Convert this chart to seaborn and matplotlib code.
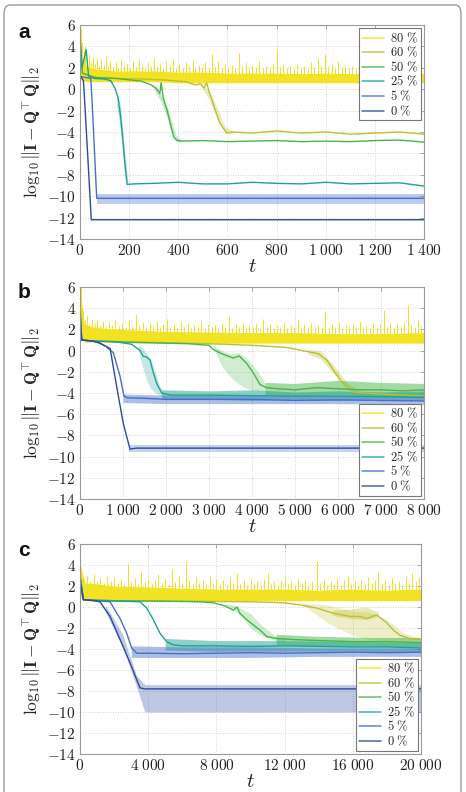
import matplotlib
matplotlib.use("Agg")
import matplotlib.pyplot as plt
from matplotlib.lines import Line2D
from matplotlib.patches import FancyBboxPatch
import seaborn as sns

# ---------------- data ----------------
LABELS = ["80 %", "60 %", "50 %", "25 %", "5 %", "0 %"]
COLORS = ["#f3e21b", "#bcc12e", "#48b44a", "#20a196", "#4670c6", "#2a4b9f"]

# ---- panel a ----
a_xticks = [0, 200, 400, 600, 800, 1000, 1200, 1400]
a_y80_t = [0, 10, 30, 60, 100, 150, 200, 300, 400, 500, 600, 700, 800, 900, 1000, 1100, 1200, 1300, 1400]
a_y80_lo = [1.0, 0.8, 0.7, 0.7, 0.7, 0.7, 0.7, 0.7, 0.6, 0.6, 0.6, 0.6, 0.6, 0.6, 0.6, 0.6, 0.55, 0.6, 0.6]
a_y80_hi = [5.0, 2.8, 2.1, 1.9, 1.8, 1.7, 1.7, 1.7, 1.6, 1.6, 1.5, 1.5, 1.5, 1.45, 1.5, 1.45, 1.45, 1.45, 1.45]
a_spikes = [(3, 5.6), (9, 4.4), (16, 3.6), (22, 4.0), (28, 2.9), (36, 3.3), (44, 2.5), (51, 3.0), (60, 2.4),
            (68, 2.9), (77, 2.2), (85, 2.7), (96, 2.3), (104, 3.1), (115, 2.2), (123, 2.6), (134, 2.1),
            (146, 2.5), (155, 2.0), (166, 2.8), (178, 2.2), (190, 2.4), (203, 2.0), (214, 2.6), (228, 2.1),
            (240, 2.9), (251, 2.3), (263, 2.0), (277, 2.5), (289, 2.2), (301, 2.9), (314, 2.1), (326, 2.4),
            (338, 2.0), (350, 2.6), (365, 2.2), (377, 2.8), (390, 2.1), (404, 2.4), (418, 2.0), (430, 2.5),
            (444, 2.2), (458, 2.7), (470, 2.0), (483, 2.3), (497, 2.1), (510, 2.5), (524, 2.0), (537, 3.3),
            (550, 2.2), (563, 2.6), (577, 2.0), (590, 2.4), (604, 2.1), (618, 2.3), (632, 2.0), (646, 3.4),
            (660, 2.2), (674, 2.5), (688, 2.0), (702, 2.3), (716, 2.1), (730, 2.6), (744, 2.0), (758, 2.3),
            (772, 2.1), (786, 2.4), (800, 3.8), (814, 2.1), (828, 2.3), (842, 2.0), (856, 2.2), (870, 1.9),
            (884, 2.4), (898, 2.0), (912, 2.2), (926, 1.9), (940, 2.5), (954, 2.1), (968, 2.9), (982, 2.2),
            (996, 3.3), (1010, 2.1), (1024, 2.4), (1038, 2.0), (1052, 2.6), (1066, 2.1), (1080, 2.3),
            (1094, 2.0), (1108, 2.2), (1122, 1.9), (1136, 2.4), (1150, 2.0), (1164, 2.3), (1178, 2.0),
            (1192, 2.7), (1206, 2.1), (1220, 2.4), (1234, 3.0), (1248, 2.1), (1262, 2.3), (1276, 2.8),
            (1290, 2.0), (1304, 2.4), (1318, 2.1), (1332, 2.3), (1346, 2.0), (1360, 2.5), (1374, 2.1),
            (1388, 2.6)]
a60_t = [0, 10, 60, 150, 250, 350, 430, 470, 490, 505, 515, 525, 545, 570, 597, 620, 700, 800, 900, 1000, 1100, 1200, 1300, 1400]
a60_v = [4.0, 1.5, 1.1, 1.0, 0.95, 0.85, 0.7, 0.4, 0.5, 0.1, 0.6, -0.2, -1.6, -3.2, -4.1, -4.0, -4.1, -3.9, -4.1, -4.0, -4.2, -4.1, -4.0, -4.2]
a60_bt = [500, 530, 560, 590, 620]
a60_blo = [0.0, -1.2, -2.9, -4.0, -4.2]
a60_bhi = [0.4, -0.3, -1.8, -3.5, -3.9]
a50_t = [0, 10, 60, 150, 250, 290, 310, 325, 330, 340, 355, 370, 382, 395, 420, 500, 600, 700, 800, 900, 1000, 1100, 1200, 1300, 1400]
a50_v = [4.5, 1.5, 1.1, 1.0, 0.75, 0.4, 0.1, -0.4, 0.6, -0.9, -2.0, -3.5, -4.5, -4.8, -4.85, -4.8, -4.9, -4.85, -4.8, -4.9, -4.85, -4.9, -4.8, -4.75, -4.95]
a50_bt = [300, 330, 360, 390, 410]
a50_blo = [0.0, -1.2, -3.0, -4.8, -5.0]
a50_bhi = [0.4, -0.5, -2.0, -4.3, -4.7]
a25_t = [0, 8, 25, 35, 60, 100, 125, 142, 155, 165, 176, 185, 192, 220, 300, 400, 500, 600, 700, 800, 900, 1000, 1100, 1200, 1300, 1400]
a25_v = [5.0, 2.0, 3.7, 1.2, 1.0, 0.95, 0.8, 0.1, -0.8, -2.5, -5.1, -7.5, -8.9, -8.85, -8.8, -8.7, -8.85, -8.85, -8.7, -8.8, -8.85, -8.7, -8.85, -8.8, -8.75, -9.05]
a25_bt = [150, 165, 180, 195]
a25_blo = [-1.5, -4.0, -7.5, -9.1]
a25_bhi = [-0.3, -1.5, -5.5, -8.6]
a5_t = [0, 44, 50, 68, 400, 800, 1200, 1400]
a5_v = [1.2, 1.0, -1.5, -10.2, -10.2, -10.2, -10.2, -10.2]
a5_bt = [68, 1400]
a5_blo = [-10.7, -10.7]
a5_bhi = [-9.75, -9.75]
a0_t = [0, 14, 20, 46, 1400]
a0_v = [1.3, 0.8, -1.5, -12.2, -12.2]

# ---- panel b ----
b_xticks = [0, 1000, 2000, 3000, 4000, 5000, 6000, 7000, 8000]
b_y80_t = [0, 100, 300, 600, 1000, 2000, 3000, 4000, 5000, 6000, 7000, 8000]
b_y80_lo = [1.5, 0.8, 0.8, 0.8, 0.75, 0.7, 0.7, 0.7, 0.7, 0.7, 0.7, 0.7]
b_y80_hi = [6.0, 2.5, 2.2, 2.1, 2.0, 1.8, 1.75, 1.7, 1.7, 1.6, 1.6, 1.7]
b_spikes = [(20, 6.0), (60, 3.8), (110, 2.9), (160, 3.3), (220, 2.5), (280, 3.0), (340, 2.6), (400, 2.9),
            (470, 2.4), (540, 2.8), (610, 2.3), (680, 2.7), (750, 2.4), (820, 3.0), (900, 2.3), (980, 2.6),
            (1060, 2.2), (1140, 2.9), (1220, 2.3), (1300, 3.5), (1380, 2.4), (1460, 2.7), (1540, 2.2),
            (1620, 2.6), (1700, 2.3), (1780, 2.8), (1860, 2.2), (1940, 2.5), (2020, 3.0), (2100, 2.2),
            (2180, 2.5), (2260, 2.1), (2340, 2.7), (2420, 2.2), (2500, 2.6), (2580, 2.1), (2660, 2.4),
            (2740, 2.2), (2820, 2.8), (2900, 2.1), (2980, 2.5), (3060, 2.2), (3140, 2.4), (3220, 2.1),
            (3300, 2.6), (3380, 2.2), (3460, 3.3), (3540, 2.1), (3620, 2.5), (3700, 2.2), (3780, 2.7),
            (3860, 2.1), (3940, 2.4), (4020, 2.2), (4100, 2.6), (4180, 2.1), (4260, 3.0), (4340, 2.2),
            (4420, 2.5), (4500, 2.1), (4580, 2.4), (4660, 2.2), (4740, 2.7), (4820, 2.1), (4900, 2.4),
            (4980, 2.2), (5060, 3.0), (5140, 2.1), (5220, 2.5), (5300, 2.2), (5380, 2.6), (5460, 2.1),
            (5540, 2.4), (5620, 2.2), (5700, 3.7), (5780, 2.1), (5860, 2.5), (5940, 2.2), (6020, 2.7),
            (6100, 2.1), (6180, 2.4), (6260, 2.2), (6340, 2.6), (6420, 2.1), (6500, 2.8), (6580, 2.2),
            (6660, 2.4), (6740, 2.1), (6820, 2.6), (6900, 2.2), (6980, 2.5), (7060, 3.8), (7140, 2.2),
            (7220, 2.6), (7300, 2.1), (7380, 2.5), (7460, 2.2), (7540, 2.7), (7620, 4.3), (7700, 2.4),
            (7780, 2.2), (7860, 2.9), (7940, 2.3), (7990, 3.0)]
b60_t = [0, 40, 300, 1000, 2000, 3000, 4000, 4800, 5300, 5550, 5740, 5890, 6050, 6200, 6360, 6600, 7000, 7500, 8000]
b60_v = [4.5, 1.0, 0.9, 0.85, 0.75, 0.65, 0.5, 0.3, -0.1, -0.3, -0.9, -1.8, -2.75, -3.4, -3.9, -4.0, -4.1, -4.2, -4.3]
b60_bt = [5300, 5600, 5900, 6200, 6500, 6800, 8000]
b60_blo = [-0.3, -0.8, -2.2, -3.6, -4.1, -4.3, -4.5]
b60_bhi = [0.1, 0.0, -1.4, -3.0, -3.8, -3.9, -4.0]
b50_t = [0, 40, 300, 1000, 1500, 2000, 2500, 3000, 3100, 3300, 3565, 3700, 3875, 4030, 4186, 4341, 4600, 5000, 5500, 6000, 6500, 7000, 7500, 8000]
b50_v = [4.0, 1.0, 0.9, 0.8, 0.75, 0.7, 0.65, 0.5, 0.1, -0.3, -0.7, -0.5, -1.2, -2.1, -3.2, -3.5, -3.6, -3.7, -3.5, -3.6, -3.7, -3.7, -3.8, -3.7]
b50_wt = [3100, 3300, 3500, 3700, 3900, 4100, 4300]
b50_wlo = [0.3, -1.5, -2.5, -3.2, -3.6, -3.8, -3.8]
b50_whi = [0.5, 0.0, -0.3, -0.2, -0.8, -1.8, -3.0]
b50_nt = [4300, 5000, 6000, 7000, 8000]
b50_nlo = [-4.2, -4.3, -4.2, -4.3, -4.4]
b50_nhi = [-3.0, -3.1, -2.8, -3.0, -3.1]
b25_t = [0, 40, 300, 800, 1200, 1318, 1400, 1473, 1550, 1628, 1700, 1783, 1900, 2100, 3000, 4000, 5000, 6000, 7000, 8000]
b25_v = [4.0, 1.0, 0.9, 0.85, 0.6, 0.25, 0.0, -0.55, -0.6, -0.9, -2.0, -3.1, -4.0, -4.2, -4.2, -4.25, -4.3, -4.3, -4.35, -4.4]
b25_wt = [1350, 1450, 1550, 1650, 1750, 1850, 1950]
b25_wlo = [0.2, -1.5, -2.8, -3.6, -4.0, -4.2, -4.3]
b25_whi = [0.5, 0.3, -0.3, -0.8, -2.0, -3.3, -3.9]
b25_nt = [1900, 3000, 4000, 5000, 6000, 7000, 8000]
b25_nlo = [-4.6, -4.6, -4.7, -4.6, -4.7, -4.6, -4.7]
b25_nhi = [-3.7, -3.8, -3.7, -3.9, -3.8, -3.9, -3.8]
b5_t = [0, 40, 300, 465, 600, 775, 930, 1023, 1100, 1500, 2000, 3000, 4000, 5000, 6000, 7000, 8000]
b5_v = [3.5, 1.0, 0.9, 0.7, 0.4, -0.2, -2.4, -4.3, -4.45, -4.5, -4.6, -4.6, -4.6, -4.7, -4.65, -4.7, -4.75]
b5_nt = [1000, 2000, 4000, 6000, 8000]
b5_nlo = [-4.9, -5.0, -5.0, -5.0, -5.1]
b5_nhi = [-4.1, -4.2, -4.2, -4.3, -4.3]
b0_t = [0, 40, 300, 465, 700, 853, 1008, 1163, 1300, 8000]
b0_v = [3.0, 1.0, 0.9, 0.7, 0.2, -3.4, -6.9, -9.3, -9.2, -9.2]
b0_bt = [1150, 8000]
b0_blo = [-9.6, -9.6]
b0_bhi = [-8.9, -8.9]

# ---- panel c ----
c_xticks = [0, 4000, 8000, 12000, 16000, 20000]
c_y80_t = [0, 300, 1000, 2000, 4000, 6000, 8000, 10000, 12000, 14000, 16000, 18000, 20000]
c_y80_lo = [1.0, 0.6, 0.6, 0.6, 0.6, 0.6, 0.6, 0.6, 0.6, 0.6, 0.6, 0.6, 0.6]
c_y80_hi = [4.0, 2.3, 2.2, 2.0, 1.9, 1.8, 1.7, 1.7, 1.7, 1.6, 1.7, 1.6, 1.7]
c_spikes = [(30, 3.8), (200, 2.7), (400, 3.0), (600, 2.5), (800, 3.1), (1000, 2.4), (1200, 2.8), (1400, 2.3),
            (1600, 3.0), (1800, 2.5), (2000, 2.9), (2200, 2.3), (2400, 2.7), (2600, 2.2), (2800, 4.1),
            (3000, 2.4), (3200, 2.8), (3400, 2.2), (3600, 3.3), (3800, 2.4), (4000, 2.7), (4200, 2.2),
            (4400, 2.6), (4600, 3.1), (4800, 2.3), (5000, 2.7), (5200, 2.2), (5400, 3.6), (5600, 2.4),
            (5800, 3.0), (6000, 2.3), (6200, 4.4), (6400, 2.6), (6600, 2.2), (6800, 2.9), (7000, 2.3),
            (7200, 2.6), (7400, 2.2), (7600, 3.0), (7800, 2.3), (8000, 2.7), (8200, 2.2), (8400, 2.6),
            (8600, 2.1), (8800, 2.9), (9000, 2.3), (9200, 3.2), (9400, 2.2), (9600, 2.6), (9800, 2.1),
            (10000, 2.8), (10200, 2.3), (10400, 2.5), (10600, 2.1), (10800, 2.7), (11000, 3.2), (11200, 2.2),
            (11400, 2.5), (11600, 2.1), (11800, 2.6), (12000, 2.9), (12200, 2.2), (12400, 2.5), (12600, 2.1),
            (12800, 2.7), (13000, 2.3), (13200, 2.6), (13400, 2.1), (13600, 2.5), (13900, 4.4), (14100, 2.3),
            (14300, 2.7), (14500, 2.1), (14700, 2.5), (14900, 2.2), (15100, 2.8), (15300, 2.1), (15500, 2.6),
            (15700, 3.0), (15900, 2.2), (16100, 2.5), (16300, 2.1), (16500, 2.7), (16700, 2.2), (16900, 2.9),
            (17100, 2.3), (17300, 2.6), (17500, 3.3), (17700, 2.2), (17900, 2.6), (18100, 2.1), (18300, 2.8),
            (18500, 2.3), (18700, 2.5), (18900, 2.1), (19100, 2.9), (19300, 2.3), (19500, 3.2), (19700, 2.4),
            (19900, 2.9)]
c60_t = [0, 200, 2000, 6000, 10000, 12000, 12900, 13880, 14860, 15840, 16420, 16800, 17400, 17990, 18380, 18770, 19350, 20000]
c60_v = [3.0, 0.7, 0.6, 0.55, 0.5, 0.4, 0.2, -0.1, -0.6, -0.9, -0.9, -1.1, -0.75, -1.5, -2.2, -2.7, -3.0, -3.1]
c60_wt = [13000, 14500, 16000, 17000, 18000, 19000, 20000]
c60_wlo = [0.3, -1.5, -2.7, -3.1, -3.2, -3.3, -3.3]
c60_whi = [0.4, 0.2, -0.4, -0.5, -1.2, -2.5, -3.0]
c60_nt = [14800, 15800, 16800, 17500]
c60_nlo = [-0.8, -1.1, -1.2, -0.9]
c60_nhi = [-0.3, -0.2, 0.0, -0.5]
c50_t = [0, 200, 2000, 5000, 7000, 7820, 8500, 8990, 9200, 9384, 9775, 10160, 10557, 10948, 11535, 12500, 14000, 16000, 18000, 20000]
c50_v = [3.0, 0.7, 0.6, 0.55, 0.5, 0.4, 0.1, -0.3, 0.0, -0.6, -1.2, -1.7, -2.2, -2.8, -3.0, -3.1, -3.2, -3.3, -3.3, -3.4]
c50_wt = [8500, 9000, 9500, 10000, 10500, 11000, 11500, 12000]
c50_wlo = [0.1, -0.2, -1.0, -2.0, -2.6, -3.0, -3.2, -3.3]
c50_whi = [0.3, 0.2, -0.2, -0.6, -1.5, -2.2, -2.8, -3.0]
c50_nt = [11500, 14000, 17000, 20000]
c50_nlo = [-3.6, -3.7, -3.7, -3.8]
c50_nhi = [-2.6, -2.8, -2.9, -2.9]
c25_t = [0, 200, 1000, 2500, 3519, 3910, 4300, 4690, 5080, 5470, 6000, 8000, 10000, 12000, 14000, 16000, 18000, 20000]
c25_v = [3.0, 0.7, 0.6, 0.55, 0.5, -0.1, -1.2, -2.5, -3.3, -3.6, -3.7, -3.7, -3.75, -3.7, -3.75, -3.8, -3.8, -3.9]
c25_nt = [5000, 8000, 12000, 16000, 20000]
c25_nlo = [-4.1, -4.2, -4.2, -4.2, -4.3]
c25_nhi = [-3.0, -3.2, -3.2, -3.3, -3.4]
c5_t = [0, 200, 1000, 1760, 2350, 2740, 3030, 3320, 4000, 6000, 8000, 10000, 12000, 14000, 16000, 18000, 20000]
c5_v = [2.5, 0.7, 0.6, 0.5, -1.1, -2.5, -3.9, -4.4, -4.4, -4.45, -4.4, -4.35, -4.4, -4.35, -4.3, -4.35, -4.3]
c5_nt = [3000, 6000, 10000, 14000, 20000]
c5_nlo = [-4.8, -4.8, -4.8, -4.7, -4.7]
c5_nhi = [-3.7, -3.8, -3.8, -3.9, -3.9]
c0_t = [0, 200, 800, 1170, 1760, 2350, 2930, 3320, 3520, 3800, 20000]
c0_v = [2.5, 0.7, 0.6, 0.5, -0.9, -3.1, -5.3, -6.9, -7.7, -7.8, -7.8]
c0_bt = [1500, 2500, 3300, 3800, 20000]
c0_blo = [-0.5, -3.8, -7.5, -10.0, -10.0]
c0_bhi = [0.2, -2.6, -6.5, -7.4, -7.4]

YTICKS = [-14, -12, -10, -8, -6, -4, -2, 0, 2, 4, 6]

# ---------------- style ----------------
sns.set_theme(style="white")
plt.rcParams["mathtext.fontset"] = "cm"
plt.rcParams["font.family"] = ["DejaVu Serif"]

fig = plt.figure(figsize=(4.66, 7.92), dpi=100)
border = FancyBboxPatch((4 / 466, -0.05), 457 / 466, 1.05 - 5 / 792,
                        boxstyle="round,pad=0,rounding_size=0.012",
                        transform=fig.transFigure, fill=False, edgecolor="#9a9a9a", lw=1.0)
fig.patches.append(border)

positions = [
    [80 / 466, 1 - 239 / 792, 344 / 466, 214 / 792],
    [80 / 466, 1 - 499 / 792, 344 / 466, 212 / 792],
    [80 / 466, 1 - 754 / 792, 341 / 466, 210 / 792],
]


def fmt_num(v):
    s = f"{abs(v):,}".replace(",", r"\;")
    return ("$-" if v < 0 else "$") + s + "$"


def band(ax, t, lo, hi, color, alpha):
    ax.fill_between(t, lo, hi, color=color, alpha=alpha, lw=0)


def line(ax, t, v, color, lw=1.0):
    sns.lineplot(x=t, y=v, color=color, lw=lw, ax=ax, estimator=None, sort=False)


def draw_yellow(ax, t, lo, hi, spikes):
    band(ax, t, lo, hi, COLORS[0], 0.95)
    st = [s[0] for s in spikes]
    sv = [s[1] for s in spikes]
    ax.vlines(st, [1.0] * len(st), sv, color=COLORS[0], lw=0.7)


def style_axes(ax, xticks, xmax, letter, letter_y, legend_loc):
    ax.set_xlim(0, xmax)
    ax.set_ylim(-14, 6)
    ax.set_xticks(xticks)
    ax.set_xticklabels([fmt_num(v) for v in xticks], fontsize=11)
    ax.set_yticks(YTICKS)
    ax.set_yticklabels([fmt_num(v) for v in YTICKS], fontsize=11)
    ax.grid(True, ls=(0, (1, 2)), color="#c4c4c4", lw=0.6)
    for sp in ax.spines.values():
        sp.set_color("#9a9a9a")
        sp.set_linewidth(0.8)
    ax.tick_params(direction="in", length=3, width=0.6, color="#9a9a9a",
                   top=True, right=True, pad=3, labelcolor="#222222")
    ax.set_xlabel(r"$t$", fontsize=15, labelpad=-1)
    ax.set_ylabel(r"$\log_{10}\left\|\mathbf{I}-\mathbf{Q}^{\!\top}\mathbf{Q}\right\|_2$",
                  fontsize=12.5, labelpad=3)
    fig.text(18 / 466, 1 - letter_y / 792, letter, fontsize=15, fontweight="bold",
             family="Liberation Sans", color="#111111")
    handles = [Line2D([], [], color=c, lw=1.1, alpha=0.85) for c in COLORS]
    labs = [r"$" + l.replace(" %", r"\ \%") + "$" for l in LABELS]
    leg = ax.legend(handles, labs, loc=legend_loc, fontsize=9, fancybox=False, framealpha=1,
                    edgecolor="#777777", borderaxespad=0.25, borderpad=0.2, labelspacing=0.02,
                    handlelength=1.8, handletextpad=0.5)
    leg.get_frame().set_linewidth(0.8)


# ---------------- panel a ----------------
ax = fig.add_axes(positions[0])
draw_yellow(ax, a_y80_t, a_y80_lo, a_y80_hi, a_spikes)
band(ax, a60_bt, a60_blo, a60_bhi, COLORS[1], 0.3)
line(ax, a60_t, a60_v, COLORS[1])
band(ax, a50_bt, a50_blo, a50_bhi, COLORS[2], 0.3)
line(ax, a50_t, a50_v, COLORS[2])
band(ax, a25_bt, a25_blo, a25_bhi, COLORS[3], 0.3)
line(ax, a25_t, a25_v, COLORS[3])
band(ax, a5_bt, a5_blo, a5_bhi, COLORS[4], 0.35)
line(ax, a5_t, a5_v, COLORS[4])
line(ax, a0_t, a0_v, COLORS[5])
style_axes(ax, a_xticks, 1400, "a", 38, "upper right")

# ---------------- panel b ----------------
ax = fig.add_axes(positions[1])
draw_yellow(ax, b_y80_t, b_y80_lo, b_y80_hi, b_spikes)
band(ax, b60_bt, b60_blo, b60_bhi, COLORS[1], 0.35)
line(ax, b60_t, b60_v, COLORS[1])
band(ax, b50_wt, b50_wlo, b50_whi, COLORS[2], 0.25)
band(ax, b50_nt, b50_nlo, b50_nhi, COLORS[2], 0.5)
line(ax, b50_t, b50_v, COLORS[2])
band(ax, b25_wt, b25_wlo, b25_whi, COLORS[3], 0.25)
band(ax, b25_nt, b25_nlo, b25_nhi, COLORS[3], 0.5)
line(ax, b25_t, b25_v, COLORS[3])
band(ax, b5_nt, b5_nlo, b5_nhi, COLORS[4], 0.45)
line(ax, b5_t, b5_v, COLORS[4])
band(ax, b0_bt, b0_blo, b0_bhi, COLORS[4], 0.3)
line(ax, b0_t, b0_v, COLORS[5])
style_axes(ax, b_xticks, 8000, "b", 298, "lower right")

# ---------------- panel c ----------------
ax = fig.add_axes(positions[2])
draw_yellow(ax, c_y80_t, c_y80_lo, c_y80_hi, c_spikes)
band(ax, c60_wt, c60_wlo, c60_whi, COLORS[1], 0.25)
band(ax, c60_nt, c60_nlo, c60_nhi, COLORS[1], 0.35)
line(ax, c60_t, c60_v, COLORS[1])
band(ax, c50_wt, c50_wlo, c50_whi, COLORS[2], 0.25)
band(ax, c50_nt, c50_nlo, c50_nhi, COLORS[2], 0.5)
line(ax, c50_t, c50_v, COLORS[2])
band(ax, c25_nt, c25_nlo, c25_nhi, COLORS[3], 0.5)
line(ax, c25_t, c25_v, COLORS[3])
band(ax, c5_nt, c5_nlo, c5_nhi, COLORS[4], 0.45)
line(ax, c5_t, c5_v, COLORS[4])
band(ax, c0_bt, c0_blo, c0_bhi, COLORS[5], 0.3)
line(ax, c0_t, c0_v, COLORS[5])
style_axes(ax, c_xticks, 20000, "c", 556, "lower right")

fig.savefig("out.png", dpi=100)
